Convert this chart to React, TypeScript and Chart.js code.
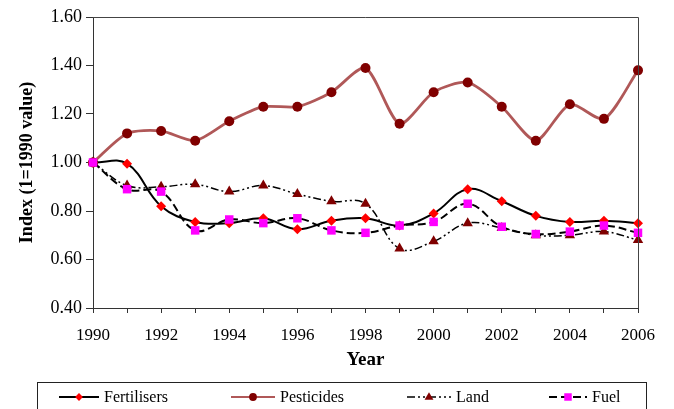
import React, { useEffect, useRef } from 'react';
import { Chart, registerables } from 'chart.js';
Chart.register(...registerables);

const years = ['1990', '1991', '1992', '1993', '1994', '1995', '1996', '1997', '1998', '1999', '2000', '2001', '2002', '2003', '2004', '2005', '2006'];
const fertilisers = [1.0, 0.995, 0.82, 0.755, 0.75, 0.77, 0.725, 0.76, 0.77, 0.74, 0.79, 0.89, 0.84, 0.78, 0.755, 0.76, 0.75];
const pesticides = [1.0, 1.12, 1.13, 1.09, 1.17, 1.23, 1.23, 1.29, 1.39, 1.16, 1.29, 1.33, 1.23, 1.09, 1.24, 1.18, 1.38];
const land = [1.0, 0.905, 0.9, 0.91, 0.88, 0.905, 0.87, 0.84, 0.83, 0.645, 0.675, 0.75, 0.73, 0.7, 0.7, 0.715, 0.68];
const fuel = [1.0, 0.89, 0.88, 0.72, 0.765, 0.75, 0.77, 0.72, 0.71, 0.74, 0.755, 0.83, 0.735, 0.705, 0.715, 0.74, 0.71];
const seriesNames = ['Fertilisers', 'Pesticides', 'Land', 'Fuel'];
const yMin = 0.4;
const yMax = 1.6;
const yStep = 0.2;

const SERIF = "'Liberation Serif', 'Times New Roman', serif";

function drawMarker(ctx: CanvasRenderingContext2D, style: string, x: number, y: number, r: number, color: string) {
  ctx.save();
  ctx.fillStyle = color;
  ctx.beginPath();
  if (style === 'rectRot') {
    ctx.moveTo(x, y - r); ctx.lineTo(x + r, y); ctx.lineTo(x, y + r); ctx.lineTo(x - r, y); ctx.closePath();
  } else if (style === 'circle') {
    ctx.arc(x, y, r, 0, Math.PI * 2);
  } else if (style === 'triangle') {
    ctx.moveTo(x, y - r); ctx.lineTo(x + r * 0.95, y + r * 0.6); ctx.lineTo(x - r * 0.95, y + r * 0.6); ctx.closePath();
  } else {
    ctx.rect(x - r * 0.8, y - r * 0.8, r * 1.6, r * 1.6);
  }
  ctx.fill();
  ctx.restore();
}

const frameAndLegend = {
  id: 'frameAndLegend',
  afterDraw(chart: any) {
    const ctx = chart.ctx as CanvasRenderingContext2D;
    const a = chart.chartArea;
    ctx.save();
    ctx.strokeStyle = '#444';
    ctx.lineWidth = 1;
    ctx.beginPath();
    ctx.moveTo(a.left, a.top + 0.5);
    ctx.lineTo(a.right + 0.5, a.top + 0.5);
    ctx.lineTo(a.right + 0.5, a.bottom);
    ctx.stroke();

    // legend box
    ctx.strokeStyle = '#222';
    ctx.strokeRect(37.5, 382.5, 609, 40);
    const cy = 397;
    const starts = [59, 231, 407, 549];
    const lens = [40, 44, 44, 38];
    chart.data.datasets.forEach((ds: any, i: number) => {
      const x0 = starts[i];
      const x1 = x0 + lens[i];
      ctx.save();
      ctx.strokeStyle = ds.borderColor;
      ctx.lineWidth = Math.min(ds.borderWidth, 2);
      ctx.setLineDash(ds.borderDash || []);
      ctx.beginPath();
      ctx.moveTo(x0, cy);
      ctx.lineTo(x1, cy);
      ctx.stroke();
      ctx.restore();
      drawMarker(ctx, ds.pointStyle, (x0 + x1) / 2, cy, ds.pointRadius * 0.78, ds.pointBackgroundColor);
      ctx.fillStyle = '#000';
      ctx.font = `16px ${SERIF}`;
      ctx.textBaseline = 'middle';
      ctx.textAlign = 'left';
      ctx.fillText(ds.label, x1 + 5, cy + 1);
    });
    ctx.restore();
  },
};

export default function App() {
  const ref = useRef<HTMLCanvasElement>(null);
  useEffect(() => {
    document.body.style.margin = '0';
    const tension = 0.4;
    const chart = new Chart(ref.current!, {
      type: 'line',
      data: {
        labels: years,
        datasets: [
          {
            label: seriesNames[0], data: fertilisers, borderColor: '#000', borderWidth: 2,
            pointStyle: 'rectRot', pointRadius: 5, pointBackgroundColor: '#ff0000', pointBorderColor: '#ff0000',
            pointBorderWidth: 0, tension, order: 3,
          },
          {
            label: seriesNames[1], data: pesticides, borderColor: '#b05858', borderWidth: 2.8,
            pointStyle: 'circle', pointRadius: 5, pointBackgroundColor: '#800000', pointBorderColor: '#800000',
            pointBorderWidth: 0, tension: 0.25, order: 4,
          },
          {
            label: seriesNames[2], data: land, borderColor: '#000', borderWidth: 1.5, borderDash: [8, 3, 2, 3, 2, 3],
            pointStyle: 'triangle', pointRadius: 6, pointBackgroundColor: '#800000', pointBorderColor: '#800000',
            pointBorderWidth: 0, tension, order: 2,
          },
          {
            label: seriesNames[3], data: fuel, borderColor: '#000', borderWidth: 2, borderDash: [8, 4],
            pointStyle: 'rect', pointRadius: 6, pointBackgroundColor: '#ff00ff', pointBorderColor: '#ff00ff',
            pointBorderWidth: 0, tension, order: 1,
          },
        ],
      },
      options: {
        animation: false,
        responsive: false,
        devicePixelRatio: 1,
        layout: { padding: { left: 0, right: 36, top: 17, bottom: 35 } },
        plugins: { legend: { display: false }, tooltip: { enabled: false } },
        scales: {
          x: {
            type: 'category',
            offset: false,
            afterFit: (s: any) => { s.height = 66; },
            grid: { display: true, drawOnChartArea: false, drawTicks: true, tickLength: 5, color: '#333' },
            border: { display: true, color: '#333', width: 1 },
            ticks: {
              autoSkip: false, maxRotation: 0, padding: 12, color: '#000',
              font: { family: SERIF, size: 17 },
              callback: (_v: any, i: number) => (i % 2 === 0 ? years[i] : ''),
            },
            title: {
              display: true, text: 'Year', color: '#000',
              font: { family: SERIF, size: 19, weight: 'bold' },
              padding: { top: 0, bottom: 3 },
            },
          },
          y: {
            min: yMin, max: yMax,
            afterFit: (s: any) => { s.width = 93; },
            grid: { display: true, drawOnChartArea: false, drawTicks: true, tickLength: 7, color: '#333' },
            border: { display: true, color: '#333', width: 1 },
            ticks: {
              stepSize: yStep, padding: 4, color: '#000',
              font: { family: SERIF, size: 18 },
              callback: (v: any) => Number(v).toFixed(2),
            },
            title: {
              display: true, text: 'Index (1=1990 value)', color: '#000',
              font: { family: SERIF, size: 18, weight: 'bold' },
              padding: { top: 17, bottom: 0 },
            },
          },
        },
      },
      plugins: [frameAndLegend],
    });
    return () => chart.destroy();
  }, []);
  return (
    <div style={{ width: 674, height: 409 }}>
      <canvas ref={ref} width={674} height={409} style={{ display: 'block' }} />
    </div>
  );
}
